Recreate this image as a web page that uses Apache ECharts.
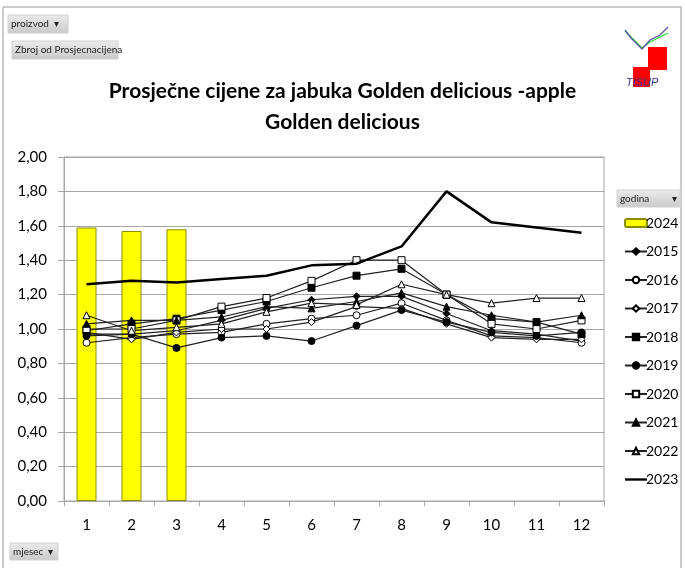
<!DOCTYPE html>
<html>
<head>
<meta charset="utf-8">
<script src="https://cdn.jsdelivr.net/npm/echarts@6/dist/echarts.min.js"></script>
<style>
  html, body { margin: 0; padding: 0; background: #fff; }
  #chart { width: 685px; height: 568px; }
</style>
</head>
<body>
<div id="chart"></div>
<script>
// mjeseci (x os)
var months = ['1', '2', '3', '4', '5', '6', '7', '8', '9', '10', '11', '12']

// prosjecne cijene po godinama
var y2024 = [1.59, 1.57, 1.58, null, null, null, null, null, null, null, null, null]
var y2015 = [0.97, 0.97, 0.99, 1.05, 1.12, 1.17, 1.19, 1.19, 1.09, 0.99, 0.97, 0.93]
var y2016 = [0.92, 0.95, 0.97, 0.98, 1.03, 1.06, 1.08, 1.15, 1.05, 0.96, 0.95, 0.92]
var y2017 = [0.98, 0.94, 0.98, 1.00, 1.00, 1.04, 1.13, 1.12, 1.03, 0.95, 0.94, 0.94]
var y2018 = [0.99, 1.03, 1.06, 1.11, 1.16, 1.24, 1.31, 1.35, 1.20, 1.06, 1.04, 0.97]
var y2019 = [0.96, 0.97, 0.89, 0.95, 0.96, 0.93, 1.02, 1.11, 1.04, 0.98, 0.96, 0.98]
var y2020 = [1.00, 1.00, 1.05, 1.13, 1.18, 1.28, 1.40, 1.40, 1.20, 1.03, 1.00, 1.05]
var y2021 = [1.03, 1.05, 1.05, 1.07, 1.13, 1.12, 1.16, 1.21, 1.13, 1.08, 1.04, 1.08]
var y2022 = [1.08, 0.99, 1.01, 1.03, 1.10, 1.15, 1.14, 1.26, 1.20, 1.15, 1.18, 1.18]
var y2023 = [1.26, 1.28, 1.27, 1.29, 1.31, 1.37, 1.38, 1.48, 1.80, 1.62, 1.59, 1.56]

var years = ['2024', '2015', '2016', '2017', '2018', '2019', '2020', '2021', '2022', '2023']

var font = 'Lato, "Open Sans", sans-serif'

var lineSeries = function(name, data, symbol, filled) {
    return {
        name: name,
        type: 'line',
        data: data,
        symbol: symbol,
        symbolSize: 7,
        lineStyle: { color: '#222', width: 1.2 },
        itemStyle: { color: filled ? '#000' : '#fff', borderColor: '#000', borderWidth: 1 },
        emphasis: { disabled: true },
        z: 3
    }
}

var button = function(x, y, w, h, label) {
    return {
        type: 'group',
        x: x,
        y: y,
        children: [{
            type: 'rect',
            shape: { x: 0, y: 0, width: w, height: h },
            style: {
                fill: new echarts.graphic.LinearGradient(0, 0, 0, 1, [
                    { offset: 0, color: '#ececec' },
                    { offset: 1, color: '#c9c9c9' }
                ]),
                stroke: '#d0d0d0'
            }
        }, {
            type: 'text',
            x: 3,
            y: h / 2,
            style: { text: label, font: '10px ' + font, fill: '#222', verticalAlign: 'middle' }
        }]
    }
}

var chartDom = document.getElementById('chart')
var myChart = echarts.init(chartDom)

var legendData = []
for (i in years) {
    if (years[i] == '2023')
        legendData.push({ name: '2023', icon: 'path://M0,0 L24,0 L24,2.6 L0,2.6 Z' })
    else
        legendData.push(years[i])
}

var option = {
    animation: false,
    backgroundColor: '#fff',
    textStyle: { fontFamily: font },
    title: {
        text: 'Prosječne cijene za jabuka Golden delicious -apple\nGolden delicious',
        left: 'center',
        top: 71,
        textStyle: { fontSize: 21, fontWeight: 'bold', color: '#000', lineHeight: 31, fontFamily: font }
    },
    legend: {
        orient: 'vertical',
        left: 619,
        top: 211,
        itemWidth: 22,
        itemHeight: 8,
        itemGap: 14.5,
        data: legendData,
        textStyle: { fontSize: 14, color: '#000', padding: [0, 0, 0, -6] }
    },
    grid: {
        left: 64,
        right: 81,
        top: 157,
        bottom: 67,
        show: true,
        borderColor: '#a6a6a6',
        borderWidth: 1
    },
    xAxis: {
        type: 'category',
        data: months,
        axisLine: { lineStyle: { color: '#a6a6a6' } },
        axisTick: { show: true, length: 5, lineStyle: { color: '#a6a6a6' } },
        axisLabel: { fontSize: 15, color: '#000', margin: 17 }
    },
    yAxis: {
        type: 'value',
        min: 0,
        max: 2,
        interval: 0.2,
        axisLine: { show: true, lineStyle: { color: '#a6a6a6' } },
        axisTick: { show: true, length: 6, lineStyle: { color: '#a6a6a6' } },
        splitLine: { lineStyle: { color: '#a6a6a6' } },
        axisLabel: {
            fontSize: 15,
            color: '#000',
            margin: 17,
            formatter: function(v) { return v.toFixed(2).replace('.', ',') }
        }
    },
    series: [{
        name: '2024',
        type: 'bar',
        data: y2024,
        barWidth: 20,
        itemStyle: { color: '#ffff00', borderColor: '#8c8c00', borderWidth: 1 },
        emphasis: { disabled: true },
        z: 1
    },
        lineSeries('2015', y2015, 'diamond', true),
        lineSeries('2016', y2016, 'circle', false),
        lineSeries('2017', y2017, 'diamond', false),
        lineSeries('2018', y2018, 'rect', true),
        lineSeries('2019', y2019, 'circle', true),
        lineSeries('2020', y2020, 'rect', false),
        lineSeries('2021', y2021, 'triangle', true),
        lineSeries('2022', y2022, 'triangle', false),
    {
        name: '2023',
        type: 'line',
        data: y2023,
        symbol: 'none',
        lineStyle: { color: '#000', width: 2.5 },
        itemStyle: { color: '#000' },
        emphasis: { disabled: true },
        z: 4
    }],
    graphic: [
        // okvir
        {
            type: 'rect',
            shape: { x: 3, y: 7, width: 678, height: 580 },
            style: { fill: 'none', stroke: '#9a9a9a', lineWidth: 1 },
            silent: true
        },
        button(8, 15, 60, 18, 'proizvod  ▾'),
        button(12, 41, 106, 18, 'Zbroj od Prosjecnacijena'),
        button(617, 190, 63, 17, 'godina         ▾'),
        button(10, 543, 48, 17, 'mjesec  ▾'),
        // logo TISUP
        {
            type: 'group',
            x: 0,
            y: 0,
            children: [
                { type: 'rect', shape: { x: 648, y: 47, width: 19, height: 23 }, style: { fill: '#ff0000' } },
                { type: 'rect', shape: { x: 633, y: 67, width: 17, height: 20 }, style: { fill: '#ff0000' } },
                { type: 'polyline', shape: { points: [[625, 31], [634, 40], [642, 48], [650, 42], [660, 37], [668, 33]] }, style: { stroke: '#33dd33', lineWidth: 1.3, fill: 'none' } },
                { type: 'polyline', shape: { points: [[625, 30], [631, 38], [642, 49], [650, 40], [660, 35], [668, 27]] }, style: { stroke: '#5555aa', lineWidth: 1.3, fill: 'none' } },
                { type: 'text', x: 626, y: 77, style: { text: 'TISUP', font: 'italic 11px "Liberation Sans"', fill: '#333388' } }
            ]
        }
    ]
}

option && myChart.setOption(option)
</script>
</body>
</html>
